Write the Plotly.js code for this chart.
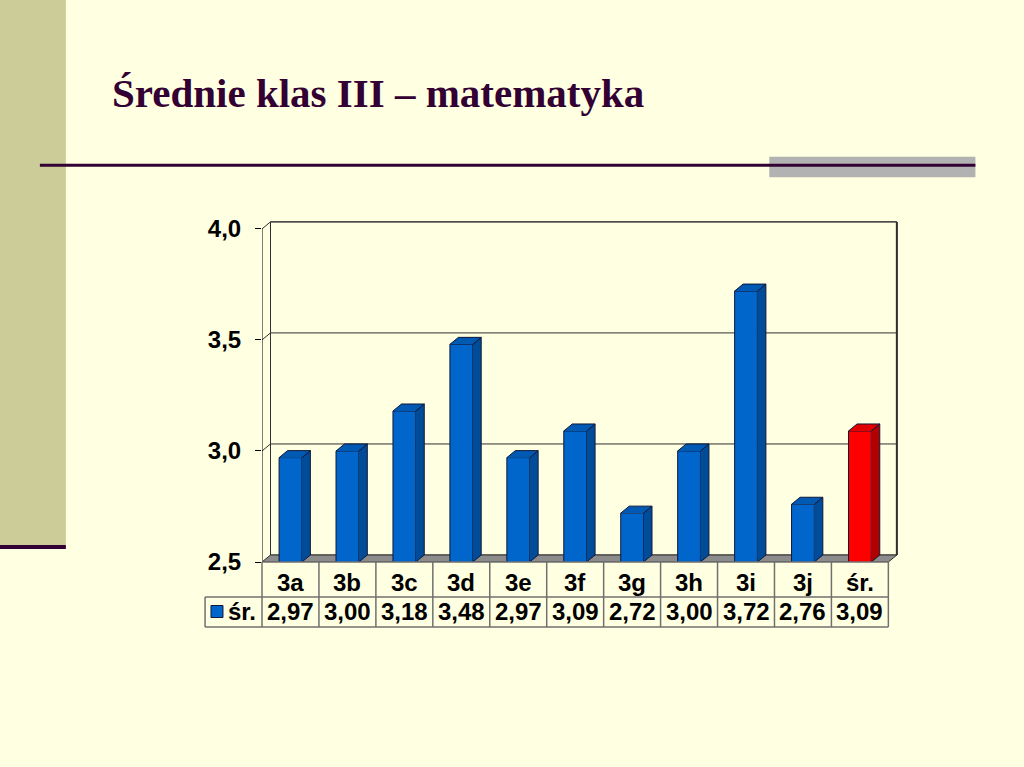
<!DOCTYPE html>
<html>
<head>
<meta charset="utf-8">
<script src="https://cdn.plot.ly/plotly-3.0.1.min.js"></script>
<style>
html,body{margin:0;padding:0;background:#FFFFE1;}
#chart{width:1024px;height:767px;}
</style>
</head>
<body>
<div id="chart"></div>
<script>
// ---- data ----
const categories = ['3a','3b','3c','3d','3e','3f','3g','3h','3i','3j','śr.'];
const values = [2.97, 3.00, 3.18, 3.48, 2.97, 3.09, 2.72, 3.00, 3.72, 2.76, 3.09];
const seriesName = 'śr.';
const highlightIndex = 10;
const yTickVals = [2.5, 3.0, 3.5, 4.0];
const yTickText = ['2,5', '3,0', '3,5', '4,0'];
const titleText = 'Średnie klas III – matematyka';

// ---- geometry / style ----
const BLUE = '#0066CC', BLUE_SIDE = '#004C99', BLUE_TOP = '#0059B3';
const RED = '#FF0000', RED_SIDE = '#B00000', RED_TOP = '#E00000';
const EDGE = '#10183A';
const DARK = '#330033';
const BG = '#FFFFE1';
const ppx = 56.91, ppy = 222;           // pixels per category / per unit
const dx = 8.5 / ppx, dy = 7 / ppy;      // 3D depth offsets in data units
const barW = 0.40;
const yMin = yTickVals[0], yMax = yTickVals[yTickVals.length - 1];
const n = categories.length;
const xr = [-0.5, n - 0.5 + dx + 0.02];
const yr = [yMin, yMax + dy + 0.004];
const L = 262, BOTTOM = 562;
const plotW = (xr[1] - xr[0]) * ppx, plotH = (yr[1] - yr[0]) * ppy;
const R = 1024 - L - plotW, T = BOTTOM - plotH, B = 767 - BOTTOM;
const pxX = p => (p - L) / plotW;
const pxY = p => (BOTTOM - p) / plotH;
const dataToPxX = x => L + (x - xr[0]) * ppx;

const xs = categories.map((c, i) => i);

// ---- side and top faces built from the data ----
function faces(idxs, kind) {
  const X = [], Y = [];
  idxs.forEach(i => {
    const v = values[i], x = xs[i], h = barW / 2;
    if (kind === 'side') {
      X.push(x + h, x + h + dx, x + h + dx, x + h, null);
      Y.push(yMin, yMin + dy, v + dy, v, null);
    } else {
      X.push(x - h, x - h + dx, x + h + dx, x + h, null);
      Y.push(v, v + dy, v + dy, v, null);
    }
  });
  return {X, Y};
}
const blueIdx = xs.filter(i => i !== highlightIndex);
const redIdx = [highlightIndex];
function faceTrace(idxs, kind, color) {
  const f = faces(idxs, kind);
  return {type: 'scatter', mode: 'lines', x: f.X, y: f.Y, fill: 'toself',
    fillcolor: color, line: {color: EDGE, width: 1}, hoverinfo: 'skip', showlegend: false};
}

const traces = [
  {type: 'bar', x: xs, y: values, width: barW, name: seriesName,
   marker: {color: xs.map(i => i === highlightIndex ? RED : BLUE), line: {color: EDGE, width: 1}},
   showlegend: false, hoverinfo: 'skip'},
  faceTrace(blueIdx, 'side', BLUE_SIDE),
  faceTrace(blueIdx, 'top', BLUE_TOP),
  faceTrace(redIdx, 'side', RED_SIDE),
  faceTrace(redIdx, 'top', RED_TOP)
];

// ---- shapes ----
const shapes = [];
// slide decoration
shapes.push({type: 'rect', xref: 'paper', yref: 'paper', x0: pxX(0), x1: pxX(66), y0: pxY(0), y1: pxY(545),
  fillcolor: '#CCCC99', line: {width: 0}, layer: 'below'});
shapes.push({type: 'rect', xref: 'paper', yref: 'paper', x0: pxX(0), x1: pxX(66), y0: pxY(545), y1: pxY(549),
  fillcolor: DARK, line: {width: 0}, layer: 'below'});
shapes.push({type: 'rect', xref: 'paper', yref: 'paper', x0: pxX(769), x1: pxX(975), y0: pxY(157), y1: pxY(177.5),
  fillcolor: '#B2B2B2', line: {width: 0}, layer: 'below'});
shapes.push({type: 'line', xref: 'paper', yref: 'paper', x0: pxX(40), x1: pxX(975), y0: pxY(165.5), y1: pxY(165.5),
  line: {color: DARK, width: 3}, layer: 'below'});
// back wall
const xL = xr[0], xRt = n - 0.5;
shapes.push({type: 'rect', xref: 'x', yref: 'y', x0: xL + dx, x1: xRt + dx, y0: yMin + dy, y1: yMax + dy,
  line: {color: '#303030', width: 1}, layer: 'below'});
shapes.push({type: 'line', xref: 'x', yref: 'y', x0: xRt + dx, x1: xRt + dx, y0: yMin + dy, y1: yMax + dy,
  line: {color: '#303030', width: 2}, layer: 'below'});
// gridlines on the wall
yTickVals.filter(v => v > yMin).forEach(v => {
  shapes.push({type: 'path', xref: 'x', yref: 'y',
    path: `M ${xL},${v} L ${xL + dx},${v + dy} L ${xRt + dx},${v + dy}`,
    line: {color: '#303030', width: 1}, layer: 'below'});
});
// left wall back edge
shapes.push({type: 'line', xref: 'x', yref: 'y', x0: xL + dx, x1: xL + dx, y0: yMin + dy, y1: yMax + dy,
  line: {color: '#303030', width: 1}, layer: 'below'});
// floor
shapes.push({type: 'path', xref: 'x', yref: 'y',
  path: `M ${xL},${yMin} L ${xRt},${yMin} L ${xRt + dx},${yMin + dy} L ${xL + dx},${yMin + dy} Z`,
  fillcolor: '#8C8C8C', line: {color: '#303030', width: 1}, layer: 'below'});
// front y axis line
shapes.push({type: 'line', xref: 'x', yref: 'y', x0: xL, x1: xL, y0: yMin, y1: yMax,
  line: {color: '#000000', width: 1}, layer: 'above'});

// ---- data table ----
const TBL_TOP = 562, TBL_MID = 597, TBL_BOT = 627;
const TBL_LEFT = dataToPxX(-1.5), TBL_RIGHT = dataToPxX(n - 0.5);
const tableLine = {color: '#707070', width: 1.5};
shapes.push({type: 'line', xref: 'paper', yref: 'paper', x0: pxX(L), x1: pxX(TBL_RIGHT), y0: pxY(TBL_TOP), y1: pxY(TBL_TOP), line: tableLine});
[TBL_MID, TBL_BOT].forEach(p => shapes.push({type: 'line', xref: 'paper', yref: 'paper',
  x0: pxX(TBL_LEFT), x1: pxX(TBL_RIGHT), y0: pxY(p), y1: pxY(p), line: tableLine}));
for (let i = 0; i <= n; i++) {
  const xp = dataToPxX(i - 0.5);
  shapes.push({type: 'line', xref: 'paper', yref: 'paper', x0: pxX(xp), x1: pxX(xp), y0: pxY(TBL_TOP), y1: pxY(TBL_BOT), line: tableLine});
}
shapes.push({type: 'line', xref: 'paper', yref: 'paper', x0: pxX(TBL_LEFT), x1: pxX(TBL_LEFT), y0: pxY(TBL_MID), y1: pxY(TBL_BOT), line: tableLine});
// legend key square
shapes.push({type: 'rect', xref: 'paper', yref: 'paper', x0: pxX(211), x1: pxX(223), y0: pxY(605.5), y1: pxY(617.5),
  fillcolor: BLUE, line: {color: EDGE, width: 1}});

const tFont = {family: 'Liberation Sans, Arial, sans-serif', size: 24, color: '#000000', weight: 700};
const annotations = [];
categories.forEach((c, i) => annotations.push({xref: 'x', yref: 'paper', x: xs[i], y: pxY(582), text: c,
  showarrow: false, xanchor: 'center', yanchor: 'middle', font: tFont}));
values.forEach((v, i) => annotations.push({xref: 'x', yref: 'paper', x: xs[i], y: pxY(611),
  text: v.toFixed(2).replace('.', ','), showarrow: false, xanchor: 'center', yanchor: 'middle', font: tFont}));
annotations.push({xref: 'paper', yref: 'paper', x: pxX(242), y: pxY(611), text: seriesName,
  showarrow: false, xanchor: 'center', yanchor: 'middle', font: tFont});

const layout = {
  width: 1024, height: 767,
  margin: {l: L, r: R, t: T, b: B, pad: 0},
  paper_bgcolor: BG, plot_bgcolor: BG,
  showlegend: false,
  title: {text: titleText, xref: 'container', yref: 'container', x: 112 / 1024, xanchor: 'left',
    y: 1 - 93 / 767, yanchor: 'middle',
    font: {family: 'Liberation Serif, Times New Roman, serif', size: 41, color: DARK, weight: 700}},
  xaxis: {type: 'linear', range: xr, showgrid: false, zeroline: false, showline: false,
    showticklabels: false, ticks: '', fixedrange: true},
  yaxis: {range: yr, showgrid: false, zeroline: false, showline: false,
    tickmode: 'array', tickvals: yTickVals, ticktext: yTickText,
    ticks: 'outside', ticklen: 6, tickcolor: '#000000', tickwidth: 1, ticklabelstandoff: 9,
    tickfont: {family: 'Liberation Sans, Arial, sans-serif', size: 24, color: '#000000', weight: 700},
    fixedrange: true},
  shapes: shapes,
  annotations: annotations,
  hovermode: false
};

Plotly.newPlot('chart', traces, layout, {displayModeBar: false, staticPlot: true});
</script>
</body>
</html>
